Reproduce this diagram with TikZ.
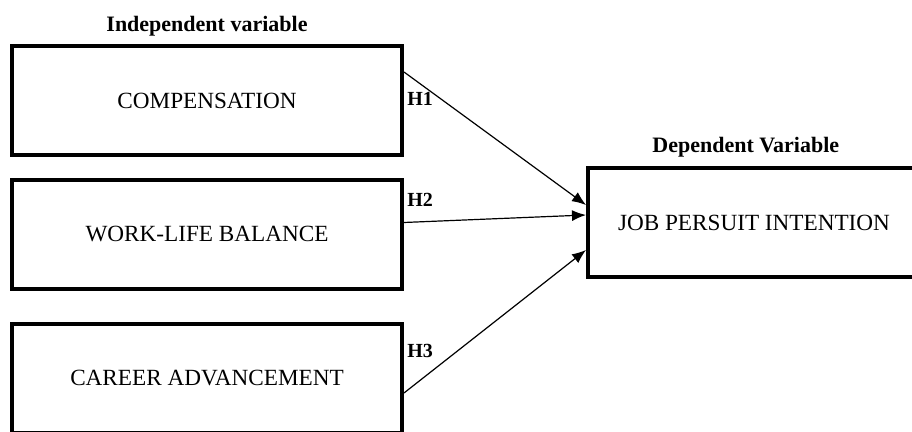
\documentclass[tikz,border=0pt]{standalone}
\usepackage{fontspec}
\setmainfont{Liberation Serif}
\usetikzlibrary{arrows.meta,positioning}

\begin{document}
\begin{tikzpicture}[
  x=1pt, y=1pt,
  node distance=10.5pt,
  box/.style={draw, line width=2pt, minimum width=195pt, minimum height=54.5pt,
              inner sep=0pt, font=\fontsize{11.6}{14}\selectfont},
  title/.style={font=\fontsize{11}{13}\selectfont\bfseries, inner sep=0pt},
  hyp/.style={font=\fontsize{10}{12}\selectfont\bfseries, inner sep=0pt},
  arr/.style={-{Latex[length=7pt,width=5.5pt]}, line width=0.6pt}
]
\useasboundingbox (0,0) rectangle (456,216);
\node[box, anchor=north west] (comp) at (5,194) {COMPENSATION};
\node[box, below=of comp] (wlb) {WORK-LIFE BALANCE};
\node[box, below=15.5pt of wlb] (career) {CAREER ADVANCEMENT};
\node[box, minimum width=166pt, anchor=north west] (job) at (293,133)
  {JOB PERSUIT INTENTION};
\node[title, above=3.5pt of comp] (indep) {Independent variable};
\node[title, above right=4pt and 33pt of job.north west] (dep) {Dependent Variable};
% hypotheses
\node[hyp, right=1.5pt of comp.east, yshift=0.75pt] (h1) {H1};
\node[hyp, right=1.5pt of wlb.east, yshift=17.5pt] (h2) {H2};
\node[hyp, right=1.5pt of career.east, yshift=13.75pt] (h3) {H3};
\draw[arr] ([yshift=14.25pt]comp.east) -- ([yshift=8.75pt]job.west);
\draw[arr] ([yshift=6pt]wlb.east) -- ([yshift=3.75pt]job.west);
\draw[arr] ([yshift=-7.25pt]career.east) -- ([yshift=-13.75pt]job.west);
\end{tikzpicture}
\end{document}
